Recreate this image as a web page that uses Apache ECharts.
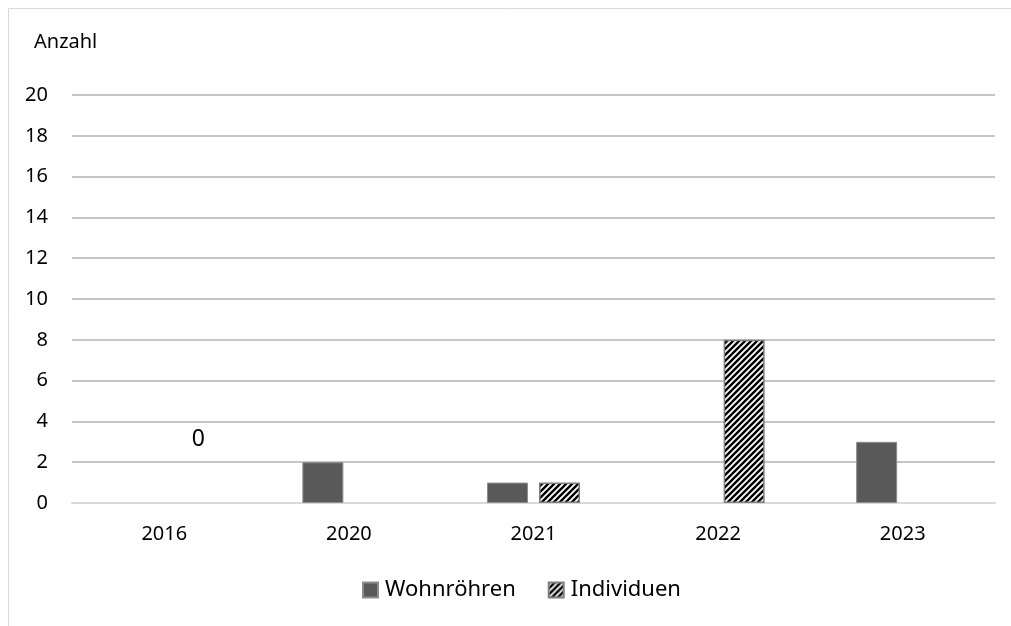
<!DOCTYPE html>
<html>
<head>
<meta charset="utf-8">
<script src="https://cdn.jsdelivr.net/npm/echarts@6/dist/echarts.min.js"></script>
<style>
html,body{margin:0;padding:0;background:#fff;}
#chart{width:1011px;height:626px;}
</style>
</head>
<body>
<div id="chart"></div>
<script>
const categories = ['2016', '2020', '2021', '2022', '2023'];
const wohnroehren = [0, 2, 1, 0, 3];
const individuen = [0, 0, 1, 8, 0];
const yTicks = [0, 2, 4, 6, 8, 10, 12, 14, 16, 18, 20];
const seriesNames = ['Wohnröhren', 'Individuen'];
const yAxisTitle = 'Anzahl';

// hatch pattern
const pc = document.createElement('canvas');
pc.width = 6; pc.height = 6;
const g = pc.getContext('2d');
g.fillStyle = '#ffffff';
g.fillRect(0, 0, 6, 6);
g.strokeStyle = '#000000';
g.lineWidth = 2.4;
g.beginPath();
g.moveTo(-1, 7); g.lineTo(7, -1);
g.moveTo(-4, 4); g.lineTo(4, -4);
g.moveTo(2, 10); g.lineTo(10, 2);
g.stroke();

const FONT = '"Noto Sans", "Open Sans", sans-serif';

function items(arr, labelIndex) {
  return arr.map((v, i) => {
    const it = { value: v };
    if (v === 0) it.itemStyle = { borderWidth: 0 };
    if (i === labelIndex) {
      it.label = {
        show: true, position: 'top', offset: [8, -47],
        fontSize: 23, color: '#000', fontFamily: FONT,
        formatter: '{c}'
      };
    }
    return it;
  });
}

const chart = echarts.init(document.getElementById('chart'));
chart.setOption({
  animation: false,
  backgroundColor: '#fff',
  graphic: [{
    type: 'rect', silent: true,
    shape: { x: 8.5, y: 8.5, width: 1100, height: 700 },
    style: { fill: 'none', stroke: '#d9d9d9', lineWidth: 1 }
  }, {
    type: 'text', left: 34, top: 32,
    style: { text: yAxisTitle, fontSize: 20, fill: '#000', fontFamily: FONT }
  }],
  grid: { left: 72, right: 16, top: 95, bottom: 123, containLabel: false },
  legend: {
    bottom: 20, left: 357,
    icon: 'rect',
    itemWidth: 15, itemHeight: 15, itemGap: 32,
    textStyle: { fontSize: 22, color: '#000', fontFamily: FONT, padding: [0, 0, 0, 2] },
    data: seriesNames
  },
  xAxis: {
    type: 'category', data: categories,
    axisLine: { lineStyle: { color: '#d9d9d9', width: 2 } },
    axisTick: { show: false },
    axisLabel: { fontSize: 20, color: '#000', fontFamily: FONT, margin: 21 }
  },
  yAxis: {
    type: 'value', min: yTicks[0], max: yTicks[yTicks.length - 1], interval: 2,
    axisLine: { show: false }, axisTick: { show: false },
    axisLabel: { fontSize: 20, color: '#000', fontFamily: FONT, margin: 24 },
    splitLine: { lineStyle: { color: '#b3b0b0', width: 1.5 } }
  },
  series: [{
    name: seriesNames[0], type: 'bar', barWidth: 41, barGap: '27%',
    data: items(wohnroehren, -1),
    itemStyle: { color: '#595959', borderColor: '#8c8c8c', borderWidth: 1 }
  }, {
    name: seriesNames[1], type: 'bar', barWidth: 41, barGap: '27%',
    data: items(individuen, 0),
    itemStyle: { color: { image: pc, repeat: 'repeat' }, borderColor: '#7f7f7f', borderWidth: 1.5 }
  }]
});
</script>
</body>
</html>
